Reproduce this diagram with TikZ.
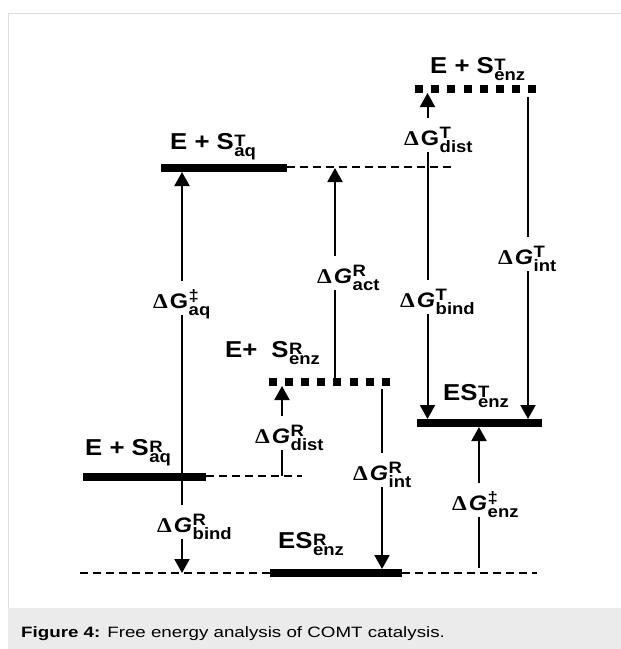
\documentclass[tikz,border=0pt]{standalone}
\usepackage{fontspec}
\setmainfont{Liberation Sans}[FakeStretch=1.12]
\newfontfamily\capfont{Liberation Sans}[FakeStretch=1.25]
\newfontfamily\dfont{Liberation Serif}[FakeStretch=1.12]
\usetikzlibrary{arrows.meta}
\newcommand{\SupSub}[3][2.5pt]{%
  \setbox0=\hbox{\fontsize{16.5}{16.5}\selectfont\bfseries #2}%
  \setbox2=\hbox{\fontsize{16.5}{16.5}\selectfont\bfseries #3}%
  \kern0.5pt\raise#1\copy0\kern-\wd0\lower7pt\copy2
  \ifdim\wd0>\wd2\kern\dimexpr\wd0-\wd2\relax\fi}
\newcommand{\dG}[3]{{\fontsize{21}{21}\selectfont{\dfont\bfseries Δ}\kern2pt\textbf{#1}\SupSub[7pt]{#2}{#3}}}
\definecolor{framegray}{HTML}{DDDDDD}
\definecolor{capgray}{HTML}{EBEBEB}
\tikzset{
  lvl/.style={anchor=base west,inner sep=0pt,font=\fontsize{23}{23}\selectfont\bfseries},
  dglab/.style={anchor=base west,inner sep=0pt},
  bar/.style={line width=8pt},
  dotbar/.style={line width=8pt,dash pattern=on 8pt off 8.2pt},
  dsh/.style={line width=2pt,dash pattern=on 8pt off 5pt},
  seg/.style={line width=2pt},
  arr/.style={line width=2pt,-{Triangle[length=14pt,width=15pt]}},
}
\begin{document}
\begin{tikzpicture}[x=1pt,y=-1pt]
\useasboundingbox (0,0) rectangle (621,649);
% frame and caption band
\fill[capgray] (8,607.5) rectangle (621,649);
\draw[framegray,line width=1pt] (8,607.5) -- (8,13.5) -- (621,13.5);
\node[anchor=base west,inner sep=0pt,font=\capfont\fontsize{15}{15}\selectfont] (cap) at (21,637)
  {\textbf{Figure 4:} Free energy analysis of COMT catalysis.};

% energy levels
\coordinate (TaqL) at (161,168); \coordinate (TaqR) at (287,168); \coordinate (TaqD) at (454,167);
\draw[bar] (TaqL) -- (TaqR);
\draw[dsh] (TaqR |- TaqD) -- (TaqD);
\coordinate (TenzL) at (415,89); \coordinate (TenzR) at (540,89);
\draw[dotbar] (TenzL) -- (TenzR);
\coordinate (RenzL) at (269,382); \coordinate (RenzR) at (391,382);
\draw[dotbar,dash pattern=on 8pt off 8.1pt] (RenzL) -- (RenzR);
\coordinate (RaqL) at (83,477); \coordinate (RaqR) at (206,477); \coordinate (RaqD) at (302,476);
\draw[bar] (RaqL) -- (RaqR);
\draw[dsh] (RaqR |- RaqD) -- (RaqD);
\coordinate (ESTL) at (417,423); \coordinate (ESTR) at (542,423);
\draw[bar] (ESTL) -- (ESTR);
\coordinate (BL) at (80,573); \coordinate (ESRL) at (270,573); \coordinate (ESRR) at (402,573); \coordinate (BR) at (537,573);
\draw[dsh] (BL) -- (ESRL);
\draw[bar] (ESRL) -- (ESRR);
\draw[dsh] (ESRR) -- (BR);

% level labels
\node[lvl] (lTaq) at (170,149) {E + S\SupSub{T}{aq}};
\node[lvl] (lTenz) at (430,73) {E + S\SupSub{T}{enz}};
\node[lvl] (lRenz) at (225,357) {E+\kern14pt S\SupSub{R}{enz}};
\node[lvl] (lRaq) at (85,455) {E + S\SupSub{R}{aq}};
\node[lvl] (lEST) at (443,400) {ES\SupSub{T}{enz}};
\node[lvl] (lESR) at (278,548) {ES\SupSub{R}{enz}};

% Delta G labels
\node[dglab] (L1) at (153,308) {\dG{G}{‡}{aq}};
\node[dglab] (L2) at (317,283) {\dG{\textit{G}}{R}{act}};
\node[dglab] (L3) at (404,145) {\dG{G}{T}{dist}};
\node[dglab] (L4) at (400,307) {\dG{\textit{G}}{T}{bind}};
\node[dglab] (L5) at (498,264) {\dG{\textit{G}}{T}{int}};
\node[dglab] (L6) at (255,443) {\dG{\textit{G}}{R}{dist}};
\node[dglab] (L7) at (353,480) {\dG{\textit{G}}{R}{int}};
\node[dglab] (L8) at (157,532) {\dG{\textit{G}}{R}{bind}};
\node[dglab] (L9) at (452,510) {\dG{\textit{G}}{‡}{enz}};
\foreach \n in {1,...,9}{
  \coordinate (L\n t) at ([yshift=27pt]L\n.base);
  \coordinate (L\n b) at ([yshift=-7pt]L\n.base);
}

% arrow end points
\coordinate (a1s) at (182,473); \coordinate (a1e) at (182,172);
\coordinate (a2s) at (335,378); \coordinate (a2e) at (335,168);
\coordinate (a3s) at (427.5,167); \coordinate (a3e) at (427.5,93);
\coordinate (a4s) at (427.5,167); \coordinate (a4e) at (427.5,419);
\coordinate (a5s) at (528,97); \coordinate (a5e) at (528,419);
\coordinate (a6s) at (282,476); \coordinate (a6e) at (282,386);
\coordinate (a7s) at (382,389); \coordinate (a7e) at (382,569);
\coordinate (a8s) at (182,481); \coordinate (a8e) at (182,573);
\coordinate (a9s) at (479,568); \coordinate (a9e) at (479,427);

% upward arrows
\foreach \n in {1,2,3,6,9}{
  \draw[seg] (a\n s) -- (a\n s |- L\n b);
  \draw[arr] (a\n s |- L\n t) -- (a\n e);
}
% downward arrows
\foreach \n in {4,5,7,8}{
  \draw[seg] (a\n s) -- (a\n s |- L\n t);
  \draw[arr] (a\n s |- L\n b) -- (a\n e);
}
\end{tikzpicture}
\end{document}
